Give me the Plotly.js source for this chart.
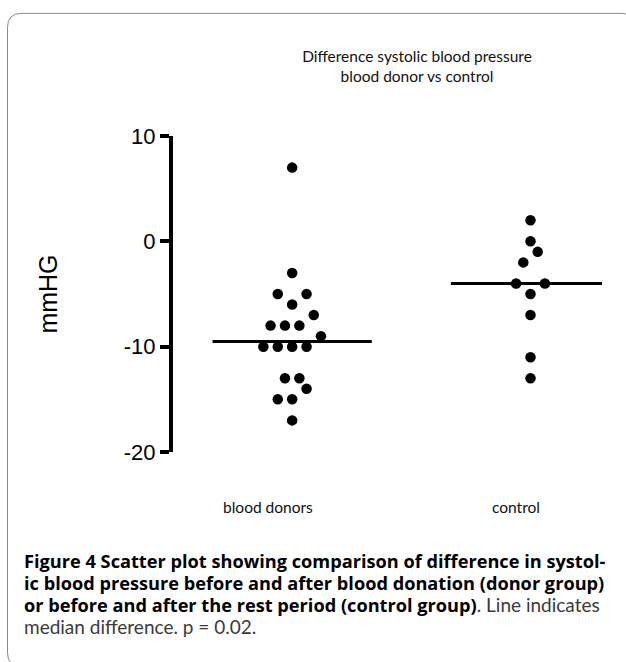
<!DOCTYPE html>
<html>
<head>
<meta charset="utf-8">
<script src="https://cdn.plot.ly/plotly-3.0.1.min.js"></script>
<style>
html, body { margin: 0; padding: 0; background: #fff; }
#chart { width: 626px; height: 662px; }
</style>
</head>
<body>
<div id="chart"></div>
<script>
// ---- data ----
const categories = ['blood donors', 'control'];
const donorValues = [7, -3, -5, -5, -6, -7, -8, -8, -8, -9, -10, -10, -10, -10, -13, -13, -14, -15, -15, -17];
const controlValues = [2, 0, -1, -2, -4, -4, -5, -7, -11, -13];
const yTickVals = [-20, -10, 0, 10];
const titleLines = ['Difference systolic blood pressure', 'blood donor vs control'];
const yTitle = 'mmHG';
const B = s => '<span style="font-family:Open Sans;font-weight:bold;font-size:18.2px;color:#000">' + s + '</span>';
const R = s => '<span style="color:#3a3a3a">' + s + '</span>';
const captionLines = [
  B('Figure 4 Scatter plot showing comparison of difference in systol-'),
  B('ic blood pressure before and after blood donation (donor group)'),
  B('or before and after the rest period (control group)') + R('. Line indicates'),
  R('median difference. p = 0.02.')
];

// ---- layout geometry ----
const W = 626, H = 662;
const M = { l: 173, r: 24, t: 135.5, b: 209.5 };
const xRange = [0.5, 2.3];
const yRange = [-20, 10];
const plotW = W - M.l - M.r, plotH = H - M.t - M.b;
const pxPerX = plotW / (xRange[1] - xRange[0]);
const dotSpacingPx = 14.4;
const spacing = dotSpacingPx / pxPerX;
const medianHalfWidth = 0.334;

function px2paperX(px) { return (px - M.l) / plotW; }
function px2paperY(py) { return (H - M.b - py) / plotH; }

// beeswarm: group sorted values from the bottom into rows one dot-height tall,
// then place each row's dots symmetrically about the group centre
function swarm(values, centre) {
  const sorted = values.slice().sort((a, b) => a - b);
  const rows = [];
  let cur = null;
  sorted.forEach(v => {
    if (cur && v - cur.start <= 1) { cur.items.push(v); }
    else { cur = { start: v, items: [v] }; rows.push(cur); }
  });
  const xs = [], ys = [];
  rows.forEach(row => {
    const n = row.items.length;
    const offs = [];
    if (n % 2 === 1) {
      offs.push(0);
      for (let k = 1; offs.length < n; k++) { offs.push(-k); if (offs.length < n) offs.push(k); }
    } else {
      for (let k = 0; offs.length < n; k++) { offs.push(-(k + 0.5)); offs.push(k + 0.5); }
    }
    row.items.forEach((v, i) => { xs.push(centre + offs[i] * spacing); ys.push(v); });
  });
  return { xs, ys };
}
function median(values) {
  const s = values.slice().sort((a, b) => a - b);
  const n = s.length;
  return n % 2 ? s[(n - 1) / 2] : (s[n / 2 - 1] + s[n / 2]) / 2;
}

const groups = [donorValues, controlValues];
const traces = [];
groups.forEach((vals, gi) => {
  const centre = gi + 1;
  const sw = swarm(vals, centre);
  traces.push({
    type: 'scatter', mode: 'markers', name: categories[gi],
    x: sw.xs, y: sw.ys,
    marker: { color: '#000', size: 10.5, line: { width: 0 } },
    hoverinfo: 'y', showlegend: false
  });
  const m = median(vals);
  traces.push({
    type: 'scatter', mode: 'lines', name: categories[gi] + ' median',
    x: [centre - medianHalfWidth, centre + medianHalfWidth], y: [m, m],
    line: { color: '#000', width: 3 },
    hoverinfo: 'y', showlegend: false
  });
});

// category labels (offset left of the dot columns, as in the reference)
const catLabelX = [0.9, 1.94];
const annotations = categories.map((c, i) => ({
  text: c, x: catLabelX[i], xref: 'x', y: px2paperY(508), yref: 'paper',
  xanchor: 'center', yanchor: 'middle', showarrow: false,
  font: { family: 'Lato', size: 15.5, color: '#111' }
}));
const captionY = [562, 584, 606, 628];
captionLines.forEach((t, i) => {
  annotations.push({
    text: t, x: px2paperX(22), xref: 'paper', y: px2paperY(captionY[i]), yref: 'paper',
    xanchor: 'left', yanchor: 'middle', align: 'left', showarrow: false,
    font: { family: 'Lato', size: 19, color: '#000' }
  });
});

// rounded figure frame
const bx0 = px2paperX(7.5), bx1 = px2paperX(636), by0 = px2paperY(12.5), by1 = px2paperY(668);
const rx = 14 / plotW, ry = 14 / plotH;
const framePath = `M ${bx0 + rx} ${by0} L ${bx1 - rx} ${by0} Q ${bx1} ${by0} ${bx1} ${by0 - ry} ` +
  `L ${bx1} ${by1 + ry} Q ${bx1} ${by1} ${bx1 - rx} ${by1} L ${bx0 + rx} ${by1} ` +
  `Q ${bx0} ${by1} ${bx0} ${by1 + ry} L ${bx0} ${by0 - ry} Q ${bx0} ${by0} ${bx0 + rx} ${by0} Z`;

const layout = {
  width: W, height: H,
  margin: M,
  paper_bgcolor: '#fff', plot_bgcolor: '#fff',
  showlegend: false,
  title: {
    text: titleLines.join('<br>'),
    x: 417 / W, xref: 'container', xanchor: 'center',
    y: 1 - 61.5 / H, yref: 'container', yanchor: 'middle',
    font: { family: 'Lato', size: 15.5, color: '#111' }
  },
  xaxis: {
    range: xRange, visible: false, fixedrange: true
  },
  yaxis: {
    range: yRange, tickvals: yTickVals, ticktext: yTickVals.map(String),
    showline: true, linewidth: 4, linecolor: '#000',
    ticks: 'outside', ticklen: 9, tickwidth: 4, tickcolor: '#000',
    tickfont: { family: 'Liberation Sans', size: 22, color: '#000' },
    showgrid: false, zeroline: false, automargin: false,
    title: { text: yTitle, standoff: 60, font: { family: 'Liberation Sans', size: 25, color: '#000' } }
  },
  shapes: [{
    type: 'path', xref: 'paper', yref: 'paper', path: framePath,
    line: { color: '#8a8a8a', width: 1 }, fillcolor: 'rgba(0,0,0,0)', layer: 'below'
  }],
  annotations: annotations
};

Plotly.newPlot('chart', traces, layout, { displayModeBar: false, staticPlot: true });
</script>
</body>
</html>
